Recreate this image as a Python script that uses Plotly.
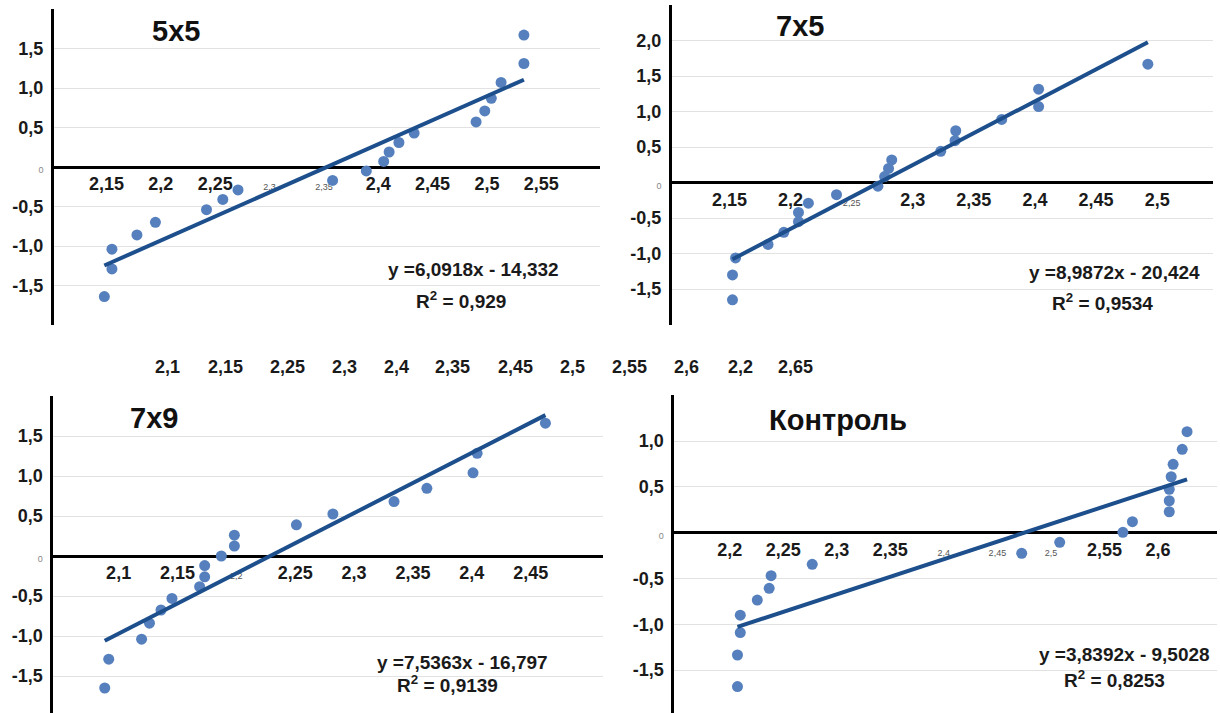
import plotly.graph_objects as go

W, H = 1220, 713

# ---------------- data ----------------
x_5x5 = [2.148, 2.155, 2.155, 2.178, 2.195, 2.242, 2.257, 2.271, 2.358, 2.389,
         2.405, 2.410, 2.419, 2.433, 2.490, 2.498, 2.504, 2.513, 2.534, 2.534]
y_5x5 = [-1.64, -1.04, -1.29, -0.86, -0.70, -0.54, -0.41, -0.29, -0.17, -0.05,
         0.07, 0.19, 0.31, 0.43, 0.57, 0.71, 0.87, 1.07, 1.31, 1.67]

x_7x5 = [2.1525, 2.1525, 2.155, 2.1816, 2.1945, 2.2065, 2.2065, 2.2146, 2.2376, 2.2715,
         2.277, 2.2802, 2.2828, 2.3229, 2.3346, 2.3352, 2.3728, 2.403, 2.403, 2.4924]
y_7x5 = [-1.65, -1.30, -1.06, -0.87, -0.70, -0.55, -0.42, -0.29, -0.17, -0.05,
         0.085, 0.20, 0.32, 0.44, 0.59, 0.73, 0.89, 1.07, 1.315, 1.667]

x_7x9 = [2.0882, 2.0916, 2.1195, 2.1262, 2.136, 2.1453, 2.1688, 2.1731, 2.1731, 2.1872,
         2.1983, 2.1983, 2.251, 2.282, 2.3339, 2.3618, 2.401, 2.4045, 2.4625]
y_7x9 = [-1.65, -1.29, -1.04, -0.84, -0.675, -0.53, -0.384, -0.26, -0.12, 0.0,
         0.125, 0.26, 0.39, 0.525, 0.68, 0.846, 1.04, 1.284, 1.66]

x_ctrl = [2.2073, 2.2073, 2.2099, 2.2099, 2.2258, 2.2369, 2.2387, 2.2771, 2.4727, 2.5082,
          2.5672, 2.5761, 2.6105, 2.6105, 2.6105, 2.6123, 2.6141, 2.6226, 2.6271]
y_ctrl = [-1.68, -1.335, -1.09, -0.90, -0.735, -0.607, -0.469, -0.345, -0.225, -0.105,
          0.004, 0.12, 0.229, 0.349, 0.474, 0.611, 0.747, 0.91, 1.103]

titles = ["5x5", "7x5", "7x9", "Контроль"]
slopes = [6.0918, 8.9872, 7.5363, 3.8392]
intercepts = [-14.332, -20.424, -16.797, -9.5028]
eq_texts = ["y =6,0918x - 14,332", "y =8,9872x - 20,424", "y =7,5363x - 16,797", "y =3,8392x - 9,5028"]
r2_texts = ["0,929", "0,9534", "0,9139", "0,8253"]

# x tick labels per panel (value, label, small flag)
xt_5x5 = [2.15, 2.2, 2.25, 2.3, 2.35, 2.4, 2.45, 2.5, 2.55]
xl_5x5 = ["2,15", "2,2", "2,25", "2,3", "2,35", "2,4", "2,45", "2,5", "2,55"]
xs_5x5 = [0, 0, 0, 1, 1, 0, 0, 0, 0]

xt_7x5 = [2.15, 2.2, 2.25, 2.3, 2.35, 2.4, 2.45, 2.5]
xl_7x5 = ["2,15", "2,2", "2,25", "2,3", "2,35", "2,4", "2,45", "2,5"]
xs_7x5 = [0, 0, 1, 0, 0, 0, 0, 0]

xt_7x9 = [2.1, 2.15, 2.2, 2.25, 2.3, 2.35, 2.4, 2.45]
xl_7x9 = ["2,1", "2,15", "2,2", "2,25", "2,3", "2,35", "2,4", "2,45"]
xs_7x9 = [0, 0, 1, 0, 0, 0, 0, 0]

xt_ctrl = [2.2, 2.25, 2.3, 2.35, 2.4, 2.45, 2.5, 2.55, 2.6]
xl_ctrl = ["2,2", "2,25", "2,3", "2,35", "2,4", "2,45", "2,5", "2,55", "2,6"]
xs_ctrl = [0, 0, 0, 0, 1, 1, 1, 0, 0]

# labelled y ticks per panel
yt_5x5 = [-1.5, -1.0, -0.5, 0, 0.5, 1.0, 1.5]
yl_5x5 = ["-1,5", "-1,0", "-0,5", "0", "0,5", "1,0", "1,5"]
yt_7x5 = [-1.5, -1.0, -0.5, 0, 0.5, 1.0, 1.5, 2.0]
yl_7x5 = ["-1,5", "-1,0", "-0,5", "0", "0,5", "1,0", "1,5", "2,0"]
yt_7x9 = [-1.5, -1.0, -0.5, 0, 0.5, 1.0, 1.5]
yl_7x9 = ["-1,5", "-1,0", "-0,5", "0", "0,5", "1,0", "1,5"]
yt_ctrl = [-1.5, -1.0, -0.5, 0, 0.5, 1.0]
yl_ctrl = ["-1,5", "-1,0", "-0,5", "0", "0,5", "1,0"]
# unlabelled gridlines at the ends of each value axis
yg_5x5 = [-2.0, 2.0]
yg_7x5 = [-2.0, 2.5]
yg_7x9 = [2.0]
yg_ctrl = [1.5]

# stray row of labels between the panels
stray_labels = ["2,1", "2,15", "2,25", "2,3", "2,4", "2,35", "2,45", "2,5", "2,55", "2,6", "2,2", "2,65"]

# ---------------- layout geometry (pixels) ----------------
panels = [
    dict(x=x_5x5, y=y_5x5, xt=xt_5x5, xl=xl_5x5, xs=xs_5x5, yt=yt_5x5, yl=yl_5x5, yg=yg_5x5,
         xdom=(54, 600), xr=(2.1017, 2.604), ydom=(9, 325), yr=(-2.0, 2.0),
         title_px=(176, 31), eq_px=(473, 270), r2_px=(461, 300)),
    dict(x=x_7x5, y=y_7x5, xt=xt_7x5, xl=xl_7x5, xs=xs_7x5, yt=yt_7x5, yl=yl_7x5, yg=yg_7x5,
         xdom=(672, 1213), xr=(2.103, 2.5457), ydom=(5, 324.7), yr=(-2.0, 2.5),
         title_px=(800, 26), eq_px=(1114, 272), r2_px=(1102, 302)),
    dict(x=x_7x9, y=y_7x9, xt=xt_7x9, xl=xl_7x9, xs=xs_7x9, yt=yt_7x9, yl=yl_7x9, yg=yg_7x9,
         xdom=(53.4, 603), xr=(2.0446, 2.5114), ydom=(396, 713), yr=(-1.9625, 2.0),
         title_px=(154, 418), eq_px=(462, 662), r2_px=(447, 684)),
    dict(x=x_ctrl, y=y_ctrl, xt=xt_ctrl, xl=xl_ctrl, xs=xs_ctrl, yt=yt_ctrl, yl=yl_ctrl, yg=yg_ctrl,
         xdom=(674.3, 1216.6), xr=(2.1483, 2.6547), ydom=(395.3, 713), yr=(-1.968, 1.5),
         title_px=(838, 420), eq_px=(1124, 654), r2_px=(1114, 679)),
]

stray_px_x = [167, 225, 287, 344, 396, 452, 515, 572, 629, 686, 740, 795]
stray_px_y = 367

FONT = "Liberation Sans, Arial, Helvetica, sans-serif"
DOT = "#5580bd"
LINE = "#1d4f8c"
GRID = "#e2e2e2"

fig = go.Figure()
layout = dict(
    width=W, height=H, margin=dict(l=0, r=0, t=0, b=0),
    paper_bgcolor="white", plot_bgcolor="white", showlegend=False,
    font=dict(family=FONT, color="#1a1a1a"),
)
annotations = []

def px_to_paper(px, py):
    return px / W, 1 - py / H

for i, p in enumerate(panels):
    n = i + 1
    xa = f"x{n}" if n > 1 else "x"
    ya = f"y{n}" if n > 1 else "y"
    xkey = f"xaxis{n}" if n > 1 else "xaxis"
    ykey = f"yaxis{n}" if n > 1 else "yaxis"

    fig.add_trace(go.Scatter(x=p["x"], y=p["y"], mode="markers", xaxis=xa, yaxis=ya,
                             marker=dict(size=11, color=DOT, line=dict(width=0)),
                             cliponaxis=False))
    xmin, xmax = min(p["x"]), max(p["x"])
    fx = [xmin, xmax]
    fy = [slopes[i] * v + intercepts[i] for v in fx]
    fig.add_trace(go.Scatter(x=fx, y=fy, mode="lines", xaxis=xa, yaxis=ya,
                             line=dict(color=LINE, width=4), cliponaxis=False))

    ytop, ybot = p["ydom"]
    y0, y1 = p["yr"]
    zero_py = ytop + (y1 - 0) / (y1 - y0) * (ybot - ytop)
    zero_pos = 1 - zero_py / H

    xticktext = [
        (f"<span style='font-size:9px;font-weight:normal;fill:#555'>{t}</span>" if s else t)
        for t, s in zip(p["xl"], p["xs"])
    ]
    yticktext = [
        ("<span style='font-size:9px;font-weight:normal;fill:#888'>0</span>" if t == "0" else t)
        for t in p["yl"]
    ]

    layout[xkey] = dict(
        domain=[p["xdom"][0] / W, p["xdom"][1] / W], range=list(p["xr"]),
        anchor="free", position=zero_pos, showgrid=False, zeroline=False, showline=False,
        ticks="", tickvals=p["xt"], ticktext=xticktext, layer="below traces",
        tickfont=dict(family=FONT, size=18, color="#1a1a1a", weight="bold"),
        ticklabelstandoff=4, fixedrange=True,
    )
    layout[ykey] = dict(
        domain=[1 - ybot / H, 1 - ytop / H], range=list(p["yr"]), anchor=xa,
        showgrid=True, gridcolor=GRID, gridwidth=1,
        minor=dict(tickmode="array", tickvals=p["yg"], showgrid=True, gridcolor=GRID,
                   gridwidth=1, ticks=""),
        zeroline=True, zerolinecolor="black", zerolinewidth=3,
        showline=True, linecolor="black", linewidth=3,
        ticks="", tickvals=p["yt"], ticktext=yticktext, layer="below traces",
        tickfont=dict(family=FONT, size=18, color="#1a1a1a", weight="bold"),
        ticklabelstandoff=4, fixedrange=True,
    )

    tx, ty = px_to_paper(*p["title_px"])
    annotations.append(dict(x=tx, y=ty, xref="paper", yref="paper", text=titles[i],
                            showarrow=False, xanchor="center", yanchor="middle",
                            font=dict(family=FONT, size=29, color="#111", weight="bold")))
    ex, ey = px_to_paper(*p["eq_px"])
    annotations.append(dict(x=ex, y=ey, xref="paper", yref="paper", text=eq_texts[i],
                            showarrow=False, xanchor="center", yanchor="middle",
                            font=dict(family=FONT, size=19, color="#1a1a1a", weight="bold")))
    rx, ry = px_to_paper(*p["r2_px"])
    annotations.append(dict(x=rx, y=ry, xref="paper", yref="paper",
                            text=f"R<sup>2</sup> = {r2_texts[i]}",
                            showarrow=False, xanchor="center", yanchor="middle",
                            font=dict(family=FONT, size=19, color="#1a1a1a", weight="bold")))

for lab, sx in zip(stray_labels, stray_px_x):
    ax, ay = px_to_paper(sx, stray_px_y)
    annotations.append(dict(x=ax, y=ay, xref="paper", yref="paper", text=lab,
                            showarrow=False, xanchor="center", yanchor="middle",
                            font=dict(family=FONT, size=18, color="#1a1a1a", weight="bold")))

layout["annotations"] = annotations
fig.update_layout(**layout)
fig.write_html("out.html", config={"displayModeBar": False},
               post_script="document.body.style.margin='0';document.body.style.overflow='hidden';")
